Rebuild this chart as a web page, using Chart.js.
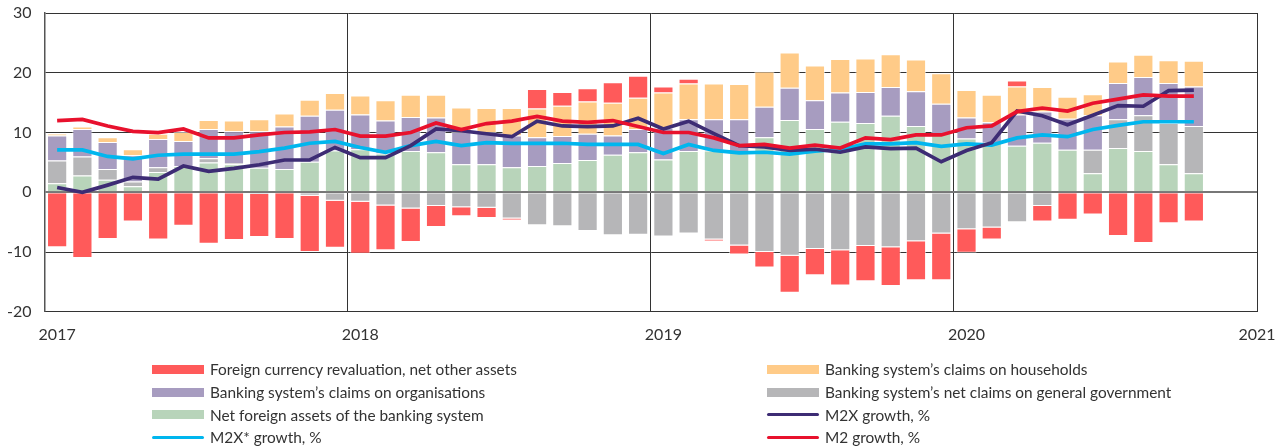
<!DOCTYPE html>
<html>
<head>
<meta charset="utf-8">
<script src="https://cdn.jsdelivr.net/npm/chart.js@4.4.1/dist/chart.umd.min.js"></script>
<style>
  body { margin: 0; background: #fff; }
  #wrap { position: relative; width: 1282px; height: 448px; }
  #legend {
    position: absolute; left: 152px; top: 358px;
    display: grid; grid-template-columns: 615px auto;
    font-family: Lato, sans-serif; font-size: 15.4px; color: #333;
  }
  .item { display: flex; align-items: center; height: 22.7px; white-space: nowrap; }
  .swatch { width: 52px; margin-right: 6px; }
</style>
</head>
<body>
<div id="wrap">
  <canvas id="myChart" width="1282" height="448"></canvas>
  <div id="legend"></div>
</div>
<script>
// monthly, Jan 2017 - Oct 2020
const months = [];
for (let y = 2017; y <= 2020; y++) {
  for (let m = 1; m <= 12; m++) months.push(y + '-' + String(m).padStart(2, '0'));
}
months.length = 46;

const yearLabels = ['2017', '2018', '2019', '2020', '2021'];
const yearTicks = [0.5, 12.5, 24.5, 36.5, 48];
const yearLines = [0, 12, 24, 36, 48];

const netForeignAssets = [
  1.5, 2.8, 2.1, 1.0, 3.4, 4.4, 5.0, 4.7, 4.1, 3.9, 5.1, 7.0,
  7.2, 6.5, 6.9, 6.7, 4.7, 4.7, 4.2, 4.4, 4.9, 5.4, 6.3, 6.7,
  5.5, 6.9, 7.0, 6.8, 9.2, 12.1, 10.6, 11.8, 11.6, 12.8, 11.1, 9.9,
  9.0, 8.3, 7.8, 8.3, 7.1, 3.2, 7.4, 6.9, 4.7, 3.2
];
const claimsGovernment = [
  3.8, 3.2, 1.8, 0.8, 0.8, 0, 0.7, 0.2, -0.3, 0, -0.6, -1.4,
  -1.6, -2.2, -2.7, -2.3, -2.5, -2.6, -4.4, -5.5, -5.7, -6.5, -7.2, -7.1,
  -7.4, -6.9, -7.9, -8.9, -10.0, -10.6, -9.5, -9.7, -9.0, -9.2, -8.2, -6.9,
  -6.2, -5.9, -5.0, -2.3, 0, 3.9, 4.8, 6.0, 6.9, 7.9
];
const claimsOrganisations = [
  4.2, 4.6, 4.5, 4.4, 4.7, 4.2, 4.9, 5.3, 6.1, 7.1, 7.7, 6.8,
  5.8, 5.5, 5.7, 5.8, 5.4, 5.4, 5.3, 4.8, 4.5, 4.4, 3.2, 3.9,
  5.3, 5.3, 5.2, 5.4, 5.1, 5.4, 4.8, 4.9, 5.2, 4.8, 5.8, 4.9,
  3.5, 3.4, 5.2, 5.2, 5.2, 5.8, 6.1, 6.4, 6.7, 6.6
];
const claimsHouseholds = [
  0.3, 0.4, 0.8, 1.0, 0.9, 1.5, 1.5, 1.8, 2.0, 2.2, 2.7, 2.8,
  3.2, 3.4, 3.7, 3.8, 4.1, 4.0, 4.6, 4.8, 5.1, 5.4, 5.5, 5.2,
  5.9, 6.0, 6.0, 5.9, 5.9, 5.9, 5.8, 5.6, 5.6, 5.5, 5.3, 5.1,
  4.6, 4.6, 4.7, 4.1, 3.7, 3.5, 3.6, 3.7, 3.8, 4.3
];
const fxRevaluation = [
  -9.2, -11.0, -7.8, -4.9, -7.9, -5.6, -8.6, -8.0, -7.2, -7.8, -9.4, -7.9,
  -8.7, -7.5, -5.6, -3.5, -1.5, -1.7, -0.3, 3.3, 2.3, 2.2, 3.4, 3.7,
  1.0, 0.8, -0.3, -1.5, -2.6, -6.2, -4.4, -5.9, -5.9, -6.5, -6.5, -7.8,
  -3.9, -2.0, 1.0, -2.6, -4.6, -3.7, -7.3, -8.5, -5.2, -4.9
];
const m2xGrowth = [
  0.8, 0.0, 1.2, 2.5, 2.2, 4.4, 3.5, 4.0, 4.6, 5.4, 5.4, 7.5,
  5.8, 5.8, 7.8, 10.6, 10.3, 9.8, 9.3, 11.9, 11.1, 11.0, 11.1, 12.4,
  10.6, 11.9, 9.8, 7.8, 7.6, 7.0, 7.2, 6.7, 7.6, 7.3, 7.4, 5.1,
  7.0, 8.3, 13.6, 12.8, 11.3, 12.9, 14.5, 14.4, 17.0, 17.1
];
const m2xStarGrowth = [
  7.1, 7.1, 6.0, 5.6, 6.2, 6.4, 6.4, 6.4, 6.8, 7.4, 8.2, 8.5,
  7.5, 6.7, 7.8, 8.5, 7.8, 8.3, 8.2, 8.2, 8.2, 8.0, 8.0, 8.0,
  6.5, 8.0, 7.0, 6.6, 6.7, 6.4, 6.9, 7.2, 8.1, 8.1, 8.3, 7.7,
  8.1, 7.9, 9.1, 9.6, 9.3, 10.5, 11.2, 11.8, 11.8, 11.8
];
const m2Growth = [
  12.0, 12.2, 11.1, 10.2, 10.0, 10.6, 9.1, 9.1, 9.6, 10.0, 10.1, 10.5,
  9.4, 9.4, 10.0, 11.6, 10.5, 11.5, 11.9, 12.7, 11.9, 11.7, 12.0, 11.0,
  10.0, 10.0, 9.1, 7.8, 8.0, 7.4, 7.9, 7.4, 9.1, 8.8, 9.6, 9.6,
  10.8, 11.1, 13.5, 14.1, 13.6, 14.9, 15.6, 16.3, 16.1, 16.1
];

const toPoints = (values) => values.map((v, i) => ({ x: i + 0.5, y: v }));

function barSet(label, values, color) {
  return {
    type: 'bar', label: label, data: toPoints(values), order: 1,
    backgroundColor: color, borderColor: 'rgba(255,255,255,0.55)', borderWidth: 1,
    categoryPercentage: 1, barPercentage: 0.8
  };
}
function lineSet(label, values, color, stack) {
  return {
    type: 'line', label: label, data: toPoints(values), order: 0, stack: stack,
    borderColor: color, backgroundColor: color, borderWidth: 3.7,
    pointRadius: 0, tension: 0, fill: false
  };
}

const datasets = [
  lineSet('M2 growth, %', m2Growth, '#e8112d', 'm2'),
  lineSet('M2X growth, %', m2xGrowth, '#3d2c74', 'm2x'),
  lineSet('M2X* growth, %', m2xStarGrowth, '#00b6ee', 'm2xs'),
  barSet('Net foreign assets of the banking system', netForeignAssets, '#b8d4ba'),
  barSet('Banking system’s net claims on general government', claimsGovernment, '#b6b6b8'),
  barSet('Banking system’s claims on organisations', claimsOrganisations, '#a79cc0'),
  barSet('Banking system’s claims on households', claimsHouseholds, '#ffcb88'),
  barSet('Foreign currency revaluation, net other assets', fxRevaluation, '#ff5a5a')
];

const tickFont = { family: 'Lato', size: 16 };

const chart = new Chart(document.getElementById('myChart'), {
  type: 'bar',
  data: { datasets: datasets },
  options: {
    responsive: false,
    animation: false,
    layout: { padding: { left: 4, right: 25, top: 13, bottom: 104 } },
    plugins: { legend: { display: false }, tooltip: { enabled: false } },
    scales: {
      x: {
        type: 'linear', min: 0, max: 48, stacked: true, offset: false,
        afterBuildTicks: (axis) => { axis.ticks = yearLines.map(v => ({ value: v })); },
        grid: { offset: false, color: '#333', lineWidth: 1, drawTicks: false },
        border: { color: '#333' },
        ticks: { display: false }
      },
      x2: {
        type: 'linear', position: 'bottom', min: 0, max: 48, offset: false,
        afterBuildTicks: (axis) => { axis.ticks = yearTicks.map(v => ({ value: v })); },
        // invisible tick marks push the year labels down without widening the side padding
        grid: { display: false, drawTicks: true, tickLength: 13 },
        border: { display: false },
        ticks: {
          autoSkip: false, maxRotation: 0, padding: 0, color: '#333', font: tickFont,
          callback: (value, index) => yearLabels[index]
        }
      },
      y: {
        min: -20, max: 30, stacked: true,
        ticks: { stepSize: 10, padding: 3, color: '#333', font: tickFont },
        grid: {
          drawTicks: true, tickLength: 10, tickColor: 'rgba(0,0,0,0)',
          color: (c) => c.tick.value === 0 ? '#777' : '#333',
          lineWidth: (c) => c.tick.value === 0 ? 2 : 1
        },
        border: { color: '#555', width: 1.5 }
      }
    }
  }
});

// legend, two columns like the original
const legendOrder = [
  'Foreign currency revaluation, net other assets', 'Banking system’s claims on households',
  'Banking system’s claims on organisations', 'Banking system’s net claims on general government',
  'Net foreign assets of the banking system', 'M2X growth, %',
  'M2X* growth, %', 'M2 growth, %'
];
const legendBox = document.getElementById('legend');
legendOrder.forEach((name) => {
  const ds = datasets.find(d => d.label === name);
  const item = document.createElement('div');
  item.className = 'item';
  const sw = document.createElement('span');
  sw.className = 'swatch';
  if (ds.type === 'line') {
    sw.style.height = '3.5px';
    sw.style.borderRadius = '2px';
    sw.style.background = ds.borderColor;
  } else {
    sw.style.height = '9px';
    sw.style.background = ds.backgroundColor;
  }
  const txt = document.createElement('span');
  txt.textContent = name;
  item.appendChild(sw);
  item.appendChild(txt);
  legendBox.appendChild(item);
});
</script>
</body>
</html>
